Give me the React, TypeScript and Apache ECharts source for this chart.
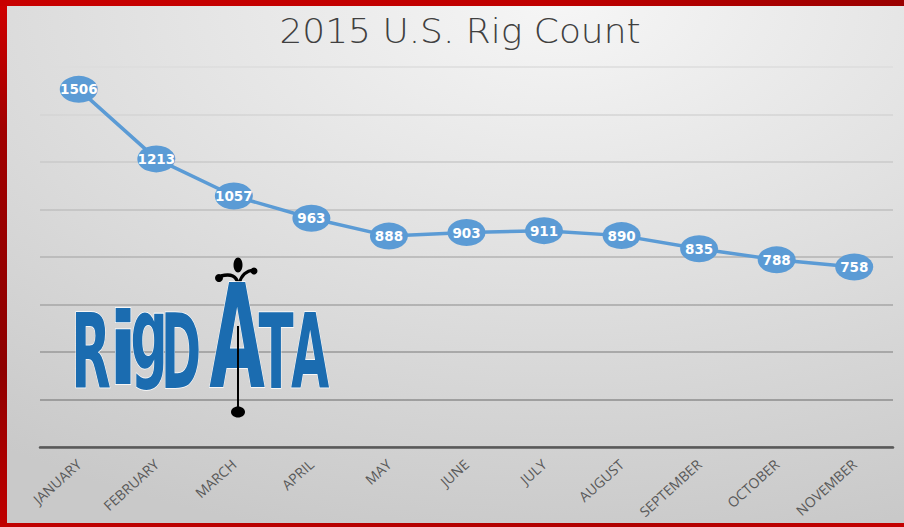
import React, { useEffect, useRef } from "react";
import * as echarts from "echarts";

const titleText = "2015 U.S. Rig Count";
const months = [
  "JANUARY", "FEBRUARY", "MARCH", "APRIL", "MAY", "JUNE",
  "JULY", "AUGUST", "SEPTEMBER", "OCTOBER", "NOVEMBER",
];
const rigCounts = [1506, 1213, 1057, 963, 888, 903, 911, 890, 835, 788, 758];
const yMin = 0;
const yMax = 1600;
const yStep = 200;
const gridColors = ["#7f7f7f", "#8c8c8c", "#999999", "#a6a6a6", "#b3b3b3", "#bfbfbf", "#cacaca", "#d4d4d4", "#dcdcdc"];

const logoBlue = "#1b6cb0";

function logoLetter(text: string, cx: number, cy: number, size: number, sx: number) {
  return {
    type: "text",
    x: cx,
    y: cy,
    scaleX: sx,
    z: 5,
    style: {
      text,
      align: "center",
      verticalAlign: "middle",
      font: `bold ${size}px "DejaVu Sans"`,
      fill: logoBlue,
      stroke: "#ffffff",
      lineWidth: 1.5,
    },
  };
}

export default function App() {
  const ref = useRef<HTMLDivElement>(null);
  useEffect(() => {
    if (!ref.current) return;
    const chart = echarts.init(ref.current, undefined, { renderer: "svg" });
    const option = {
      animation: false,
      grid: { left: 40, right: 11, top: 67, bottom: 80 },
      xAxis: {
        type: "category",
        data: months,
        boundaryGap: true,
        axisLine: { lineStyle: { color: "#595959", width: 2.5 } },
        axisTick: { show: false },
        axisLabel: {
          rotate: 42,
          margin: 15,
          color: "#595959",
          fontSize: 14,
          fontFamily: "Open Sans",
        },
      },
      yAxis: {
        type: "value",
        min: yMin,
        max: yMax,
        interval: yStep,
        axisLabel: { show: false },
        axisLine: { show: false },
        axisTick: { show: false },
        splitLine: { lineStyle: { color: gridColors, width: 1.5 } },
      },
      series: [
        {
          type: "line",
          data: rigCounts,
          z: 10,
          symbol: "circle",
          symbolSize: [38, 27],
          lineStyle: { color: "#5b9bd5", width: 3.5 },
          itemStyle: { color: "#5b9bd5" },
          label: {
            show: true,
            position: "inside",
            color: "#ffffff",
            fontWeight: "bold",
            fontSize: 13.5,
            fontFamily: "DejaVu Sans",
          },
        },
      ],
      graphic: [
        {
          type: "rect",
          z: -100,
          silent: true,
          shape: { x: 0, y: 0, width: 904, height: 527 },
          style: {
            fill: new echarts.graphic.RadialGradient(0.62, 0, 1.05, [
              { offset: 0, color: "#f6f6f6" },
              { offset: 1, color: "#c9c9c9" },
            ]),
          },
        },
        {
          type: "rect",
          z: -90,
          silent: true,
          shape: { x: 0, y: 0, width: 7, height: 527 },
          style: {
            fill: new echarts.graphic.LinearGradient(0, 0, 0, 1, [
              { offset: 0, color: "#d00000" },
              { offset: 0.25, color: "#a00000" },
              { offset: 0.7, color: "#8e0000" },
              { offset: 1, color: "#c00000" },
            ]),
          },
        },
        {
          type: "rect",
          z: -90,
          silent: true,
          shape: { x: 0, y: 0, width: 904, height: 6 },
          style: {
            fill: new echarts.graphic.LinearGradient(0, 0, 1, 0, [
              { offset: 0, color: "#c80000" },
              { offset: 0.6, color: "#c00000" },
              { offset: 1, color: "#9a0000" },
            ]),
          },
        },
        {
          type: "rect",
          z: -90,
          silent: true,
          shape: { x: 0, y: 523, width: 904, height: 4 },
          style: {
            fill: new echarts.graphic.LinearGradient(0, 0, 1, 0, [
              { offset: 0, color: "#c00000" },
              { offset: 0.7, color: "#b00000" },
              { offset: 1, color: "#c40000" },
            ]),
          },
        },
        {
          type: "text",
          x: 460,
          y: 32,
          scaleX: 1.09,
          style: {
            text: titleText,
            align: "center",
            verticalAlign: "middle",
            font: '200 33px "DejaVu Sans"',
            fill: "#404040",
          },
        },
        // logo: oil spout
        {
          type: "ellipse",
          z: 5,
          shape: { cx: 238, cy: 265, rx: 4.5, ry: 7.5 },
          style: { fill: "#000000" },
        },
        {
          type: "bezierCurve",
          z: 5,
          shape: { x1: 238, y1: 284, x2: 221, y2: 276, cpx1: 236, cpy1: 272 },
          style: { stroke: "#000000", lineWidth: 3.5, fill: "none" },
        },
        {
          type: "circle",
          z: 5,
          shape: { cx: 219, cy: 278, r: 4 },
          style: { fill: "#000000" },
        },
        {
          type: "bezierCurve",
          z: 5,
          shape: { x1: 239, y1: 284, x2: 254, y2: 270, cpx1: 242, cpy1: 271 },
          style: { stroke: "#000000", lineWidth: 3, fill: "none" },
        },
        {
          type: "circle",
          z: 5,
          shape: { cx: 254, cy: 271, r: 3.5 },
          style: { fill: "#000000" },
        },
        logoLetter("R", 91, 352, 103, 0.5),
        logoLetter("i", 123, 350, 100, 0.85),
        logoLetter("g", 149, 333, 100, 0.52),
        logoLetter("D", 181, 352, 103, 0.47),
        logoLetter("A", 237, 337, 144, 0.5),
        logoLetter("T", 276, 352, 103, 0.5),
        logoLetter("A", 310, 352, 103, 0.48),
        {
          type: "line",
          z: 6,
          shape: { x1: 238, y1: 326, x2: 238, y2: 410 },
          style: { stroke: "#000000", lineWidth: 2 },
        },
        {
          type: "ellipse",
          z: 6,
          shape: { cx: 238, cy: 412, rx: 7, ry: 5.5 },
          style: { fill: "#000000" },
        },
      ],
    };
    chart.setOption(option as any);
    return () => chart.dispose();
  }, []);
  return (
    <div
      ref={ref}
      style={{ position: "absolute", left: 0, top: 0, width: 904, height: 527 }}
    />
  );
}
